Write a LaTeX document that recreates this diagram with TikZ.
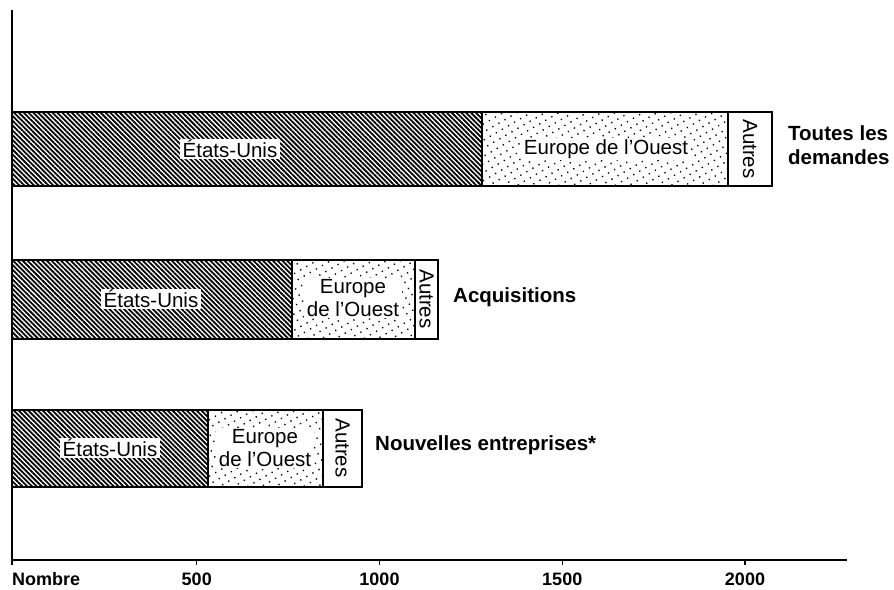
\documentclass[tikz,border=0pt]{standalone}
\usepackage{fontspec}
\setmainfont{Liberation Sans}
\usetikzlibrary{patterns.meta}
\begin{document}
\begin{tikzpicture}[x=1pt,y=-1pt,
  seg/.style={draw=black, line width=1.3pt},
  us/.style={seg, pattern={Lines[angle=-45,distance=3.4pt,line width=1.8pt]}},
  eu/.style={seg, pattern={Dots[distance=7pt,radius=0.95pt,angle=30]}},
  ot/.style={seg, fill=white},
  lab/.style={fill=white, inner xsep=2.5pt, inner ysep=1.5pt, font=\fontsize{20.5}{23}\selectfont, align=center},
  oth/.style={inner sep=0pt, rotate=-90, font=\fontsize{20.5}{23}\selectfont},
  cat/.style={anchor=west, align=left, inner sep=0pt, font=\fontsize{20.5}{24}\bfseries\selectfont},
  axl/.style={inner sep=0pt, font=\fontsize{18}{20}\bfseries\selectfont},
  axis/.style={line width=1.3pt}]
\useasboundingbox (0,0) rectangle (894,589);
% bar 1: Toutes les demandes
\path[us] (12,112) rectangle (482,186);
\path[eu] (482,112) rectangle (728,186);
\path[ot] (728,112) rectangle (772,186);
\node[lab] (us1) at (230,149) {États-Unis};
\node[lab] (eu1) at (606,149) {Europe de l’Ouest};
\node[oth] (ot1) at (750,149) {Autres};
\node[cat] (c1) at (788,145) {Toutes les\\demandes};
% bar 2: Acquisitions
\path[us] (12,260) rectangle (292,339);
\path[eu] (292,260) rectangle (415,339);
\path[ot] (415,260) rectangle (438,339);
\node[lab] (us2) at (151,299) {États-Unis};
\node[lab] (eu2) at (353,298) {Europe\\de l’Ouest};
\node[oth] (ot2) at (426.5,299) {Autres};
\node[cat] (c2) at (453,297) {Acquisitions};
% bar 3: Nouvelles entreprises
\path[us] (12,410) rectangle (208,487);
\path[eu] (208,410) rectangle (323,487);
\path[ot] (323,410) rectangle (362,487);
\node[lab] (us3) at (110,448) {États-Unis};
\node[lab] (eu3) at (265,448) {Europe\\de l’Ouest};
\node[oth] (ot3) at (342.5,448) {Autres};
\node[cat] (c3) at (375,445) {Nouvelles entreprises*};
% axes
\draw[axis] (12,10) -- (12,565);
\draw[axis] (12,560) -- (847,560);
\foreach \x in {196.75,379.5,562.25,745} \draw[axis] (\x,560) -- (\x,565);
\node[axl, anchor=base west] (n0) at (12,585) {Nombre};
\node[axl, anchor=base] (n1) at (196.75,585) {500};
\node[axl, anchor=base] (n2) at (379.5,585) {1000};
\node[axl, anchor=base] (n3) at (562.25,585) {1500};
\node[axl, anchor=base] (n4) at (745,585) {2000};
\end{tikzpicture}
\end{document}
